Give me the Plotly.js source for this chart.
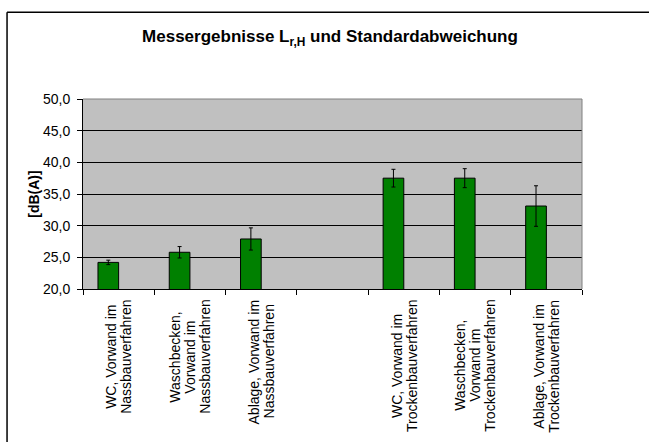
<!DOCTYPE html>
<html>
<head>
<meta charset="utf-8">
<script src="https://cdn.plot.ly/plotly-3.0.1.min.js"></script>
<style>
html,body{margin:0;padding:0;background:#fff;}
#chart{width:649px;height:442px;}
</style>
</head>
<body>
<div id="chart"></div>
<script>
const categories = [
  "WC, Vorwand im<br>Nassbauverfahren",
  "Waschbecken,<br>Vorwand im<br>Nassbauverfahren",
  "Ablage, Vorwand im<br>Nassbauverfahren",
  " ",
  "WC, Vorwand im<br>Trockenbauverfahren",
  "Waschbecken,<br>Vorwand im<br>Trockenbauverfahren",
  "Ablage, Vorwand im<br>Trockenbauverfahren"
];
const meanValues = [24.2, 25.8, 27.9, null, 37.5, 37.5, 33.1];
const stdDev = [0.35, 0.9, 1.75, null, 1.4, 1.5, 3.2];
const yTickVals = [20, 25, 30, 35, 40, 45, 50];

const font = "Liberation Sans, Arial, sans-serif";
const labelSize = 14;

const trace = {
  type: "bar",
  x: categories,
  y: meanValues,
  width: 0.29,
  offset: -0.29,
  marker: {color: "#008000", line: {color: "#000000", width: 1}},
  error_y: {type: "data", array: stdDev, visible: true, color: "#000000", thickness: 1, width: 2},
  hoverinfo: "none"
};

// category labels as rotated, centre-aligned lines (built from the categories array)
const ctx = document.createElement("canvas").getContext("2d");
ctx.font = labelSize + "px 'Liberation Sans'";
const annotations = [];
categories.forEach(function (cat) {
  if (cat.trim() === "") return;
  const lines = cat.split("<br>");
  const maxW = Math.max.apply(null, lines.map(function (l) { return ctx.measureText(l).width; }));
  lines.forEach(function (line, j) {
    annotations.push({
      x: cat, xref: "x", y: 0, yref: "paper",
      text: line, showarrow: false, textangle: -90,
      xanchor: "center", yanchor: "middle",
      xshift: (j - (lines.length - 1) / 2) * 15,
      yshift: -(10.5 + maxW / 2),
      font: {family: font, size: labelSize, color: "#000000"}
    });
  });
});

const layout = {
  width: 649, height: 442,
  margin: {l: 83, r: 67, t: 99, b: 153, pad: 0},
  paper_bgcolor: "#ffffff",
  plot_bgcolor: "#C0C0C0",
  separators: ",.",
  showlegend: false,
  font: {family: font, size: 14, color: "#000000"},
  title: {
    text: "<b>Messergebnisse L<sub>r,H</sub> und Standardabweichung</b>",
    font: {family: font, size: 17, color: "#000000"},
    x: 330/649, xref: "container", xanchor: "center",
    y: 1 - 36/442, yref: "container", yanchor: "middle"
  },
  xaxis: {
    type: "category",
    categoryorder: "array",
    categoryarray: categories,
    tickson: "boundaries",
    ticks: "outside", ticklen: 5, tickcolor: "#000000", tickwidth: 1,
    showticklabels: false,
    showline: true, linecolor: "#000000", linewidth: 1,
    showgrid: false,
    fixedrange: true, automargin: false
  },
  yaxis: {
    range: [20, 50],
    tickvals: yTickVals,
    tickformat: ".1f",
    ticks: "outside", ticklen: 5, tickcolor: "#000000", tickwidth: 1,
    ticklabelstandoff: 4,
    showline: true, linecolor: "#000000", linewidth: 1,
    showgrid: true, gridcolor: "#000000", gridwidth: 1,
    zeroline: false,
    tickfont: {family: font, size: 14, color: "#000000"},
    title: {text: "<b>[dB(A)]</b>", font: {family: font, size: 14, color: "#000000"}, standoff: 0},
    fixedrange: true, automargin: false
  },
  annotations: annotations,
  shapes: [
    {type: "line", xref: "paper", yref: "paper", x0: 0, x1: 1, y0: 1, y1: 1, line: {color: "#808080", width: 1}, layer: "above"},
    {type: "line", xref: "paper", yref: "paper", x0: 1, x1: 1, y0: 0, y1: 1, line: {color: "#808080", width: 1}, layer: "above"},
    {type: "line", xref: "paper", yref: "paper", x0: (7-83)/499.3, x1: 1.3, y0: (289.4-12)/190.5, y1: (289.4-12)/190.5, line: {color: "#000000", width: 1.5}, layer: "above"},
    {type: "line", xref: "paper", yref: "paper", x0: (7-83)/499.3, x1: (7-83)/499.3, y0: (289.4-12)/190.5, y1: -1.2, line: {color: "#000000", width: 1.5}, layer: "above"}
  ]
};

Plotly.newPlot("chart", [trace], layout, {staticPlot: true, displayModeBar: false});
</script>
</body>
</html>
